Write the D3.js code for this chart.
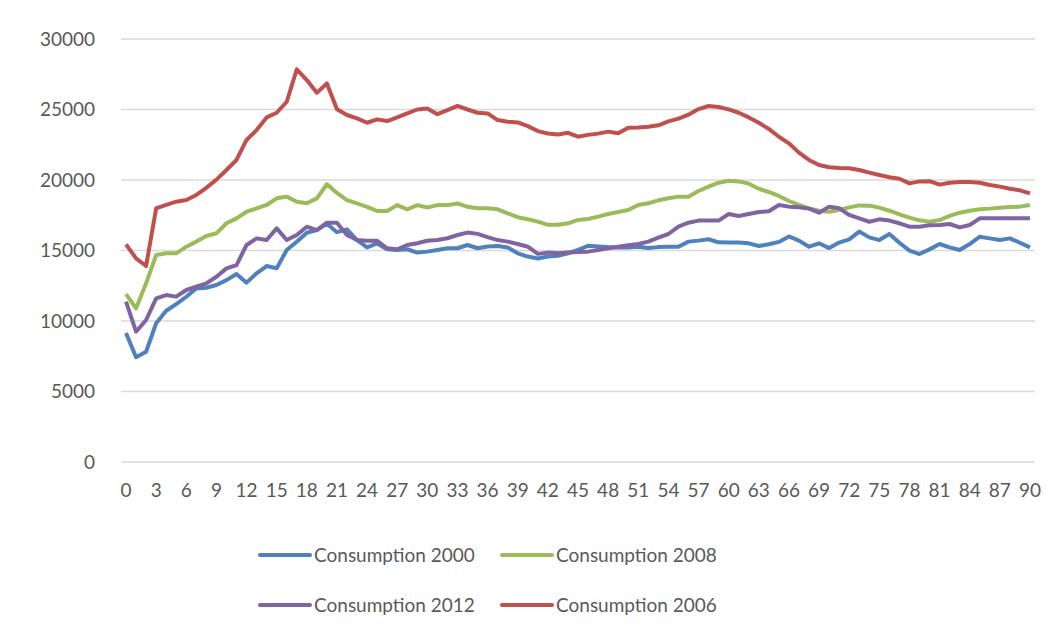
<!DOCTYPE html>
<html>
<head>
<meta charset="utf-8">
<script src="https://cdn.jsdelivr.net/npm/d3@7"></script>
<style>
  body { margin: 0; background: #fff; }
  svg text { font-family: Lato, "Open Sans", sans-serif; fill: #595959; }
</style>
</head>
<body>
<svg width="1055" height="640"></svg>
<script>
// values, index 0..90
var cons2000 = [9150, 7430, 7820, 9840, 10730, 11200, 11720, 12310, 12360, 12550,
    12900, 13330, 12720, 13380, 13900, 13740, 15030, 15620, 16260, 16450,
    16900, 16300, 16500, 15740, 15220, 15500, 15090, 15040, 15090, 14850,
    14920, 15040, 15160, 15160, 15390, 15160, 15280, 15320, 15220, 14800,
    14570, 14430, 14570, 14620, 14800, 15040, 15330, 15290, 15240, 15220,
    15220, 15270, 15170, 15240, 15270, 15270, 15630, 15700, 15800, 15580,
    15560, 15560, 15510, 15320, 15440, 15610, 16000, 15700, 15270, 15510,
    15170, 15560, 15790, 16340, 15930, 15740, 16170, 15550, 14990, 14750,
    15080, 15460, 15220, 15040, 15460, 15980, 15860, 15740, 15860, 15550, 15220];

var cons2008 = [11910, 10900, 12670, 14680, 14800, 14800, 15270, 15630, 16030, 16220,
    16930, 17280, 17750, 17990, 18230, 18700, 18820, 18460, 18350, 18700,
    19700, 19080, 18580, 18340, 18100, 17800, 17800, 18220, 17920, 18220,
    18050, 18220, 18220, 18340, 18100, 17990, 17990, 17920, 17640, 17360,
    17220, 17050, 16820, 16820, 16930, 17170, 17230, 17400, 17590, 17730,
    17870, 18230, 18350, 18560, 18700, 18820, 18820, 19220, 19530, 19810,
    19950, 19900, 19740, 19380, 19150, 18870, 18510, 18230, 17990, 17820,
    17750, 17870, 18060, 18200, 18180, 18040, 17820, 17560, 17330, 17140,
    17040, 17160, 17450, 17680, 17820, 17920, 17970, 18040, 18090, 18110, 18230];

var cons2012 = [11370, 9240, 10070, 11610, 11840, 11730, 12200, 12430, 12670, 13140,
    13730, 13970, 15390, 15860, 15740, 16570, 15740, 16100, 16690, 16450,
    16970, 16970, 16100, 15740, 15690, 15690, 15160, 15090, 15390, 15510,
    15690, 15740, 15870, 16100, 16270, 16180, 15950, 15740, 15630, 15460,
    15270, 14760, 14850, 14800, 14850, 14900, 14920, 15040, 15150, 15270,
    15370, 15460, 15630, 15910, 16170, 16690, 16970, 17120, 17120, 17120,
    17590, 17450, 17590, 17730, 17780, 18230, 18110, 18060, 17970, 17680,
    18110, 18000, 17520, 17280, 17040, 17210, 17120, 16930, 16690, 16690,
    16790, 16810, 16880, 16640, 16810, 17280, 17280, 17280, 17280, 17280, 17280];

var cons2006 = [15440, 14440, 13900, 17990, 18230, 18460, 18580, 18940, 19450, 20030,
    20710, 21420, 22840, 23540, 24440, 24770, 25550, 27850, 27090, 26190,
    26850, 25020, 24610, 24370, 24060, 24300, 24180, 24440, 24720, 25000,
    25070, 24670, 24960, 25250, 25000, 24770, 24720, 24250, 24130, 24080,
    23820, 23470, 23300, 23230, 23350, 23070, 23200, 23290, 23430, 23310,
    23710, 23730, 23780, 23880, 24160, 24350, 24630, 25030, 25250, 25180,
    25010, 24770, 24440, 24060, 23620, 23070, 22600, 21940, 21420, 21060,
    20900, 20850, 20830, 20710, 20520, 20350, 20190, 20090, 19760, 19900,
    19920, 19670, 19810, 19850, 19850, 19810, 19650, 19530, 19380, 19270, 19050];

var xLabels = d3.range(0, 91, 3);
var yTicks = [0, 5000, 10000, 15000, 20000, 25000, 30000];

var series = [
    { name: "Consumption 2000", values: cons2000, color: "#4F81BD" },
    { name: "Consumption 2008", values: cons2008, color: "#9BBB59" },
    { name: "Consumption 2012", values: cons2012, color: "#8064A2" },
    { name: "Consumption 2006", values: cons2006, color: "#C0504D" }
];
// drawing order (2006 on top as in the picture)
var drawOrder = [series[1], series[0], series[2], series[3]];

var svg = d3.select("svg");
var plotL = 121, plotR = 1035;

var scX = d3.scaleBand()
    .domain(d3.range(91))
    .range([plotL, plotR]);
var scY = d3.scaleLinear()
    .domain([0, 30000])
    .range([462, 39]);

// gridlines
svg.append("g")
    .selectAll("line")
    .data(yTicks)
    .enter()
    .append("line")
    .attr("x1", plotL).attr("x2", plotR)
    .attr("y1", d => scY(d)).attr("y2", d => scY(d))
    .attr("stroke", "#d9d9d9").attr("stroke-width", 1.5);

// y axis labels
var yAxis = svg.append("g")
    .attr("transform", "translate(" + (plotL - 26) + ",0)")
    .call(d3.axisLeft(scY).tickValues(yTicks).tickSize(0).tickPadding(0).tickFormat(d3.format("d")));
yAxis.select(".domain").remove();
yAxis.selectAll("text").attr("font-size", 19).attr("font-family", "Lato").attr("fill", "#595959");

// x axis labels
var xAxis = svg.append("g")
    .attr("transform", "translate(0,462)")
    .call(d3.axisBottom(scX).tickValues(xLabels).tickSize(0).tickPadding(22));
xAxis.select(".domain").remove();
xAxis.selectAll("text").attr("font-size", 19).attr("font-family", "Lato").attr("fill", "#595959");

const lineMaker = d3.line()
    .x((d, i) => scX(i) + scX.bandwidth() / 2)
    .y(d => scY(d));

svg.selectAll("path.cons-line")
    .data(drawOrder)
    .enter()
    .append("path")
    .attr("class", "cons-line")
    .attr("fill", "none")
    .attr("stroke", d => d.color)
    .attr("stroke-width", 4)
    .attr("stroke-linejoin", "round")
    .attr("d", d => lineMaker(d.values));

// legend 2x2
var legPos = [[260, 555], [502, 555], [260, 605], [502, 605]];
var leg = svg.selectAll("g.leg")
    .data(series)
    .enter()
    .append("g")
    .attr("class", "leg")
    .attr("transform", (d, i) => "translate(" + legPos[i][0] + "," + legPos[i][1] + ")");
leg.append("line")
    .attr("x1", 0).attr("x2", 50)
    .attr("stroke", d => d.color).attr("stroke-width", 4)
    .attr("stroke-linecap", "round");
leg.append("text")
    .attr("x", 54).attr("y", 0).attr("dy", "0.35em")
    .attr("font-size", 19)
    .text(d => d.name);
</script>
</body>
</html>
